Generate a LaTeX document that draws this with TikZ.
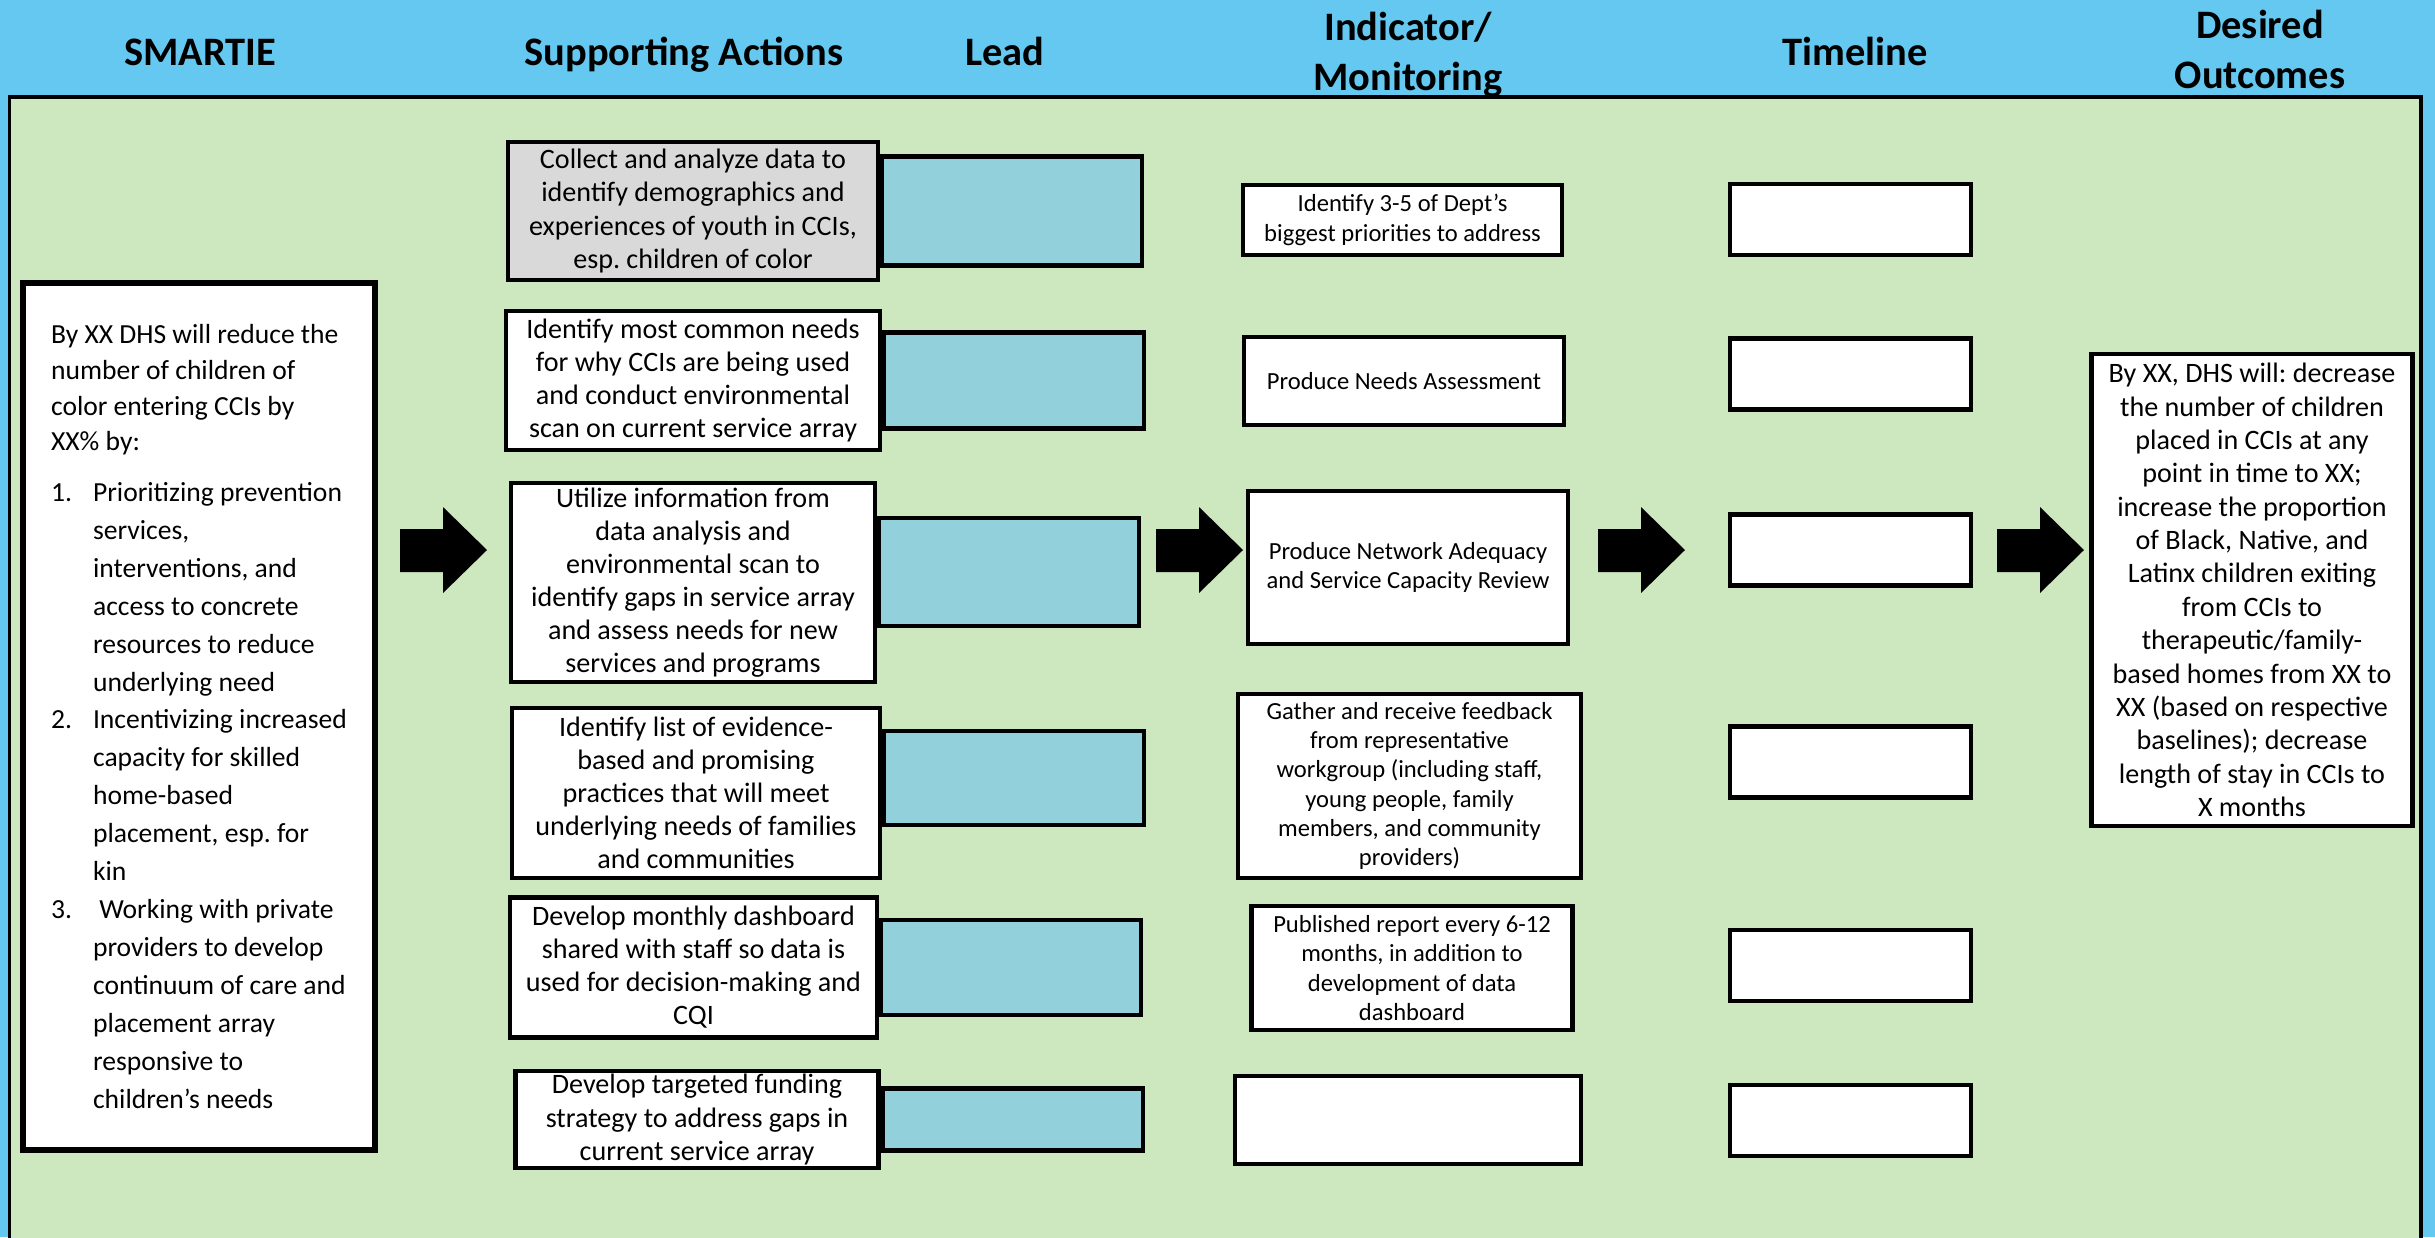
\documentclass[tikz,border=0pt]{standalone}
\usepackage{fontspec}
\setmainfont{Carlito}
\usetikzlibrary{positioning}
\frenchspacing

\definecolor{headblue}{RGB}{100,200,240}
\definecolor{panelgreen}{RGB}{205,232,190}
\definecolor{leadteal}{RGB}{146,209,219}
\definecolor{datagray}{RGB}{217,217,217}

\begin{document}
\begin{tikzpicture}[
    colhead/.style={font=\fontsize{11.5}{14.2}\selectfont\bfseries, align=center},
    textbox/.style={draw, line width=1.2pt, fill=white, align=center, inner sep=0pt,
        font=\fontsize{8}{9.4}\selectfont},
    indbox/.style={textbox, font=\fontsize{7}{8.3}\selectfont},
    leadbox/.style={draw, line width=1.2pt, fill=leadteal, inner sep=0pt, minimum width=2.60cm},
    timebox/.style={draw, line width=1.2pt, fill=white, inner sep=0pt, minimum width=2.41cm, minimum height=0.71cm}
]
    % Background and the green panel
    \fill[headblue] (0,0) rectangle (24.35,-12.37);
    \useasboundingbox (0,0) rectangle (24.35,-12.37);
    \draw[line width=0.9pt, fill=panelgreen] (0.096,-0.97) rectangle (24.21,-12.6);

    % Column headings
    \node[colhead, anchor=base] (hdSmartie) at (2.00,-0.65) {SMARTIE};
    \node[colhead, anchor=base] (hdActions) at (6.84,-0.65) {Supporting Actions};
    \node[colhead, anchor=base] (hdLead) at (10.05,-0.65) {Lead};
    \node[colhead] (hdIndicator) at (14.08,-0.55) {Indicator/\\Monitoring};
    \node[colhead, anchor=base] (hdTimeline) at (18.55,-0.65) {Timeline};
    \node[colhead] (hdOutcomes) at (22.60,-0.49) {Desired\\Outcomes};

    % SMARTIE goal on the left
    \node[draw, line width=1.7pt, fill=white, align=left, inner sep=0pt,
        minimum width=3.52cm, minimum height=8.67cm,
        font=\fontsize{7.85}{10.8}\selectfont] (smartie) at (1.99,-7.165) {%
        By XX DHS will reduce the\\[-0.6pt]
        number of children of\\[-0.6pt]
        color entering CCIs by\\[-0.6pt]
        XX\% by:\\[3.5pt]
        \makebox[0.42cm][l]{1.}Prioritizing prevention\\
        \hspace*{0.42cm}services,\\
        \hspace*{0.42cm}interventions, and\\
        \hspace*{0.42cm}access to concrete\\
        \hspace*{0.42cm}resources to reduce\\
        \hspace*{0.42cm}underlying need\\
        \makebox[0.42cm][l]{2.}Incentivizing increased\\
        \hspace*{0.42cm}capacity for skilled\\
        \hspace*{0.42cm}home-based\\
        \hspace*{0.42cm}placement, esp. for\\
        \hspace*{0.42cm}kin\\
        \makebox[0.42cm][l]{3.}\ Working with private\\
        \hspace*{0.42cm}providers to develop\\
        \hspace*{0.42cm}continuum of care and\\
        \hspace*{0.42cm}placement array\\
        \hspace*{0.42cm}responsive to\\
        \hspace*{0.42cm}children’s needs};

    % Supporting actions
    \node[textbox, fill=datagray, minimum width=3.70cm, minimum height=1.38cm] (act1) at (6.93,-2.11)
        {Collect and analyze data to\\identify demographics and\\experiences of youth in CCIs,\\esp. children of color};
    \node[textbox, minimum width=3.74cm, minimum height=1.39cm] (act2) at (6.93,-3.805)
        {Identify most common needs\\for why CCIs are being used\\and conduct environmental\\scan on current service array};
    \node[textbox, minimum width=3.64cm, minimum height=1.99cm] (act3) at (6.93,-5.825)
        {Utilize information from\\data analysis and\\environmental scan to\\identify gaps in service array\\and assess needs for new\\services and programs};
    \node[textbox, minimum width=3.68cm, minimum height=1.70cm] (act4) at (6.96,-7.93)
        {Identify list of evidence-\\based and promising\\practices that will meet\\underlying needs of families\\and communities};
    \node[textbox, minimum width=3.67cm, minimum height=1.40cm] (act5) at (6.935,-9.675)
        {Develop monthly dashboard\\shared with staff so data is\\used for decision-making and\\CQI};
    \node[textbox, minimum width=3.63cm, minimum height=0.97cm] (act6) at (6.97,-11.195)
        {Develop targeted funding\\strategy to address gaps in\\current service array};

    % Lead boxes next to each action
    \node[leadbox, minimum height=1.09cm, right=0pt of act1] (lead1) {};
    \node[leadbox, minimum height=0.96cm, right=0pt of act2] (lead2) {};
    \node[leadbox, minimum height=1.08cm, right=0pt of act3, yshift=0.105cm] (lead3) {};
    \node[leadbox, minimum height=0.94cm, right=0pt of act4, yshift=0.15cm] (lead4) {};
    \node[leadbox, minimum height=0.95cm, right=0pt of act5] (lead5) {};
    \node[leadbox, minimum height=0.62cm, right=0pt of act6] (lead6) {};

    % Indicator / monitoring boxes
    \node[indbox, minimum width=3.19cm, minimum height=0.70cm] (ind1) at (14.025,-2.20)
        {Identify 3-5 of Dept’s\\biggest priorities to address};
    \node[indbox, minimum width=3.20cm, minimum height=0.88cm] (ind2) at (14.04,-3.81)
        {Produce Needs Assessment};
    \node[indbox, minimum width=3.20cm, minimum height=1.53cm] (ind3) at (14.08,-5.675)
        {Produce Network Adequacy\\and Service Capacity Review};
    \node[indbox, minimum width=3.43cm, minimum height=1.84cm] (ind4) at (14.095,-7.86)
        {Gather and receive feedback\\from representative\\workgroup (including staff,\\young people, family\\members, and community\\providers)};
    \node[indbox, minimum width=3.21cm, minimum height=1.24cm] (ind5) at (14.12,-9.68)
        {Published report every 6-12\\months, in addition to\\development of data\\dashboard};
    \node[indbox, minimum width=3.46cm, minimum height=0.88cm] (ind6) at (14.08,-11.20) {};

    % Timeline boxes (empty)
    \node[timebox] (time1) at (18.505,-2.195) {};
    \node[timebox] (time2) at (18.505,-3.74) {};
    \node[timebox] (time3) at (18.505,-5.50) {};
    \node[timebox] (time4) at (18.505,-7.62) {};
    \node[timebox] (time5) at (18.505,-9.655) {};
    \node[timebox] (time6) at (18.505,-11.205) {};

    % Desired outcomes on the right
    \node[textbox, minimum width=3.21cm, minimum height=4.72cm,
        font=\fontsize{8}{9.5}\selectfont] (outcome) at (22.52,-5.90)
        {By XX, DHS will: decrease\\the number of children\\placed in CCIs at any\\point in time to XX;\\increase the proportion\\of Black, Native, and\\Latinx children exiting\\from CCIs to\\therapeutic/family-\\based homes from XX to\\XX (based on respective\\baselines); decrease\\length of stay in CCIs to\\X months};

    % Block arrows between the columns
    \fill (4.00,-5.29) -- ++(0.43,0) -- ++(0,0.22) -- ++(0.44,-0.43) -- ++(-0.44,-0.43) -- ++(0,0.21) -- ++(-0.43,0) -- cycle;
    \fill (11.56,-5.29) -- ++(0.43,0) -- ++(0,0.22) -- ++(0.44,-0.43) -- ++(-0.44,-0.43) -- ++(0,0.21) -- ++(-0.43,0) -- cycle;
    \fill (15.98,-5.29) -- ++(0.43,0) -- ++(0,0.22) -- ++(0.44,-0.43) -- ++(-0.44,-0.43) -- ++(0,0.21) -- ++(-0.43,0) -- cycle;
    \fill (19.97,-5.29) -- ++(0.43,0) -- ++(0,0.22) -- ++(0.44,-0.43) -- ++(-0.44,-0.43) -- ++(0,0.21) -- ++(-0.43,0) -- cycle;
\end{tikzpicture}
\end{document}
